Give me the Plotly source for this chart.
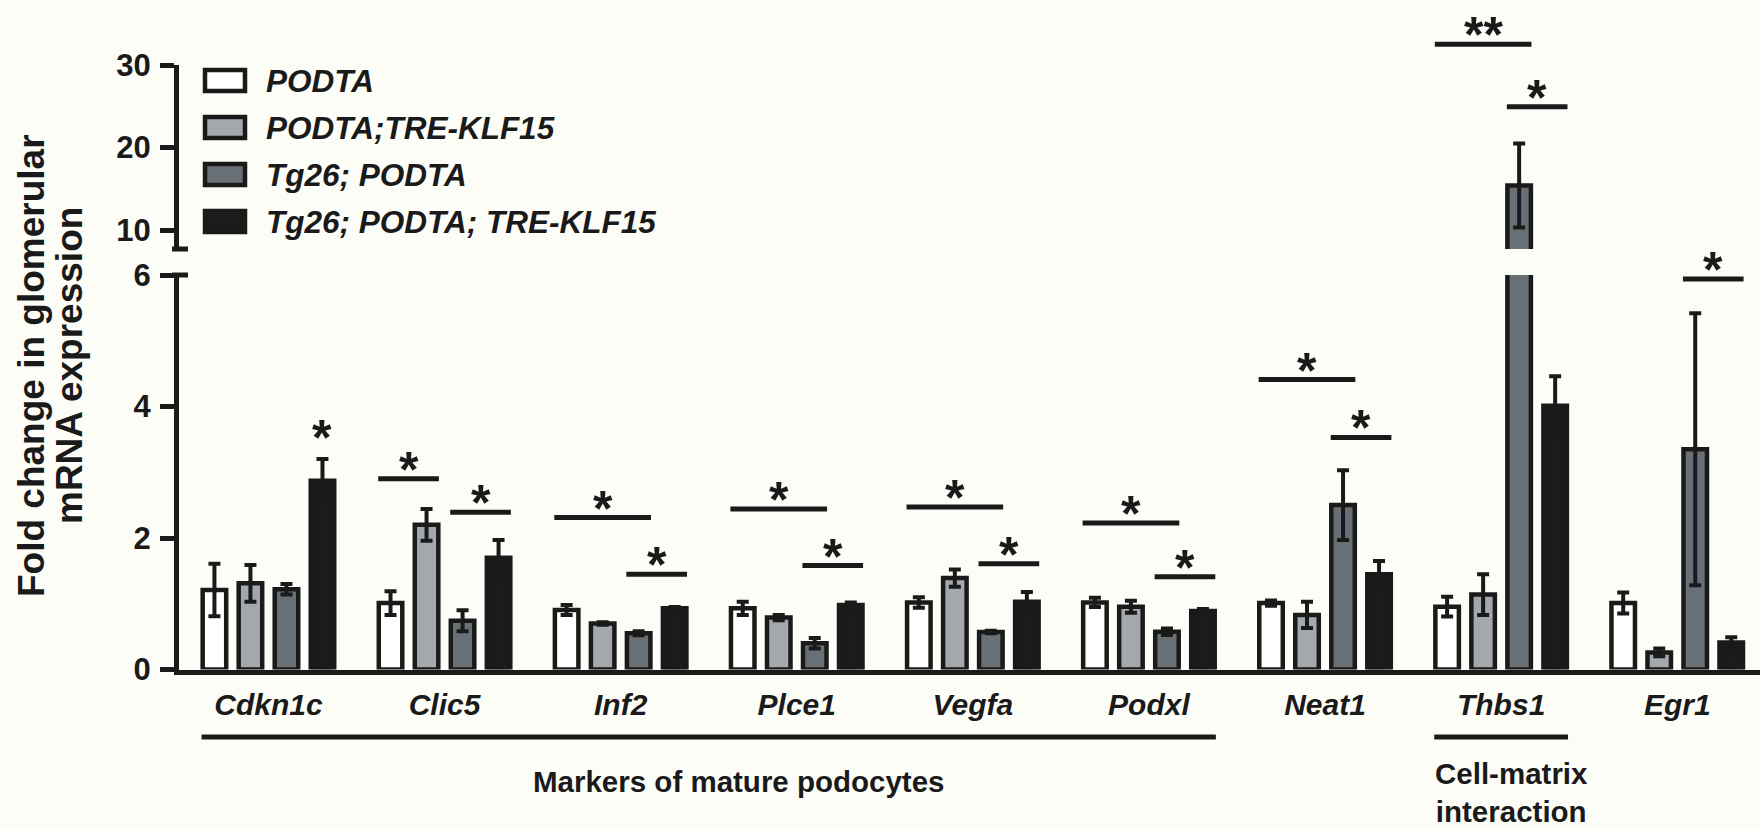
import plotly.graph_objects as go

# ---- data -------------------------------------------------------------
genes = ["Cdkn1c", "Clic5", "Inf2", "Plce1", "Vegfa", "Podxl", "Neat1", "Thbs1", "Egr1"]
strains = ["PODTA", "PODTA;TRE-KLF15", "Tg26; PODTA", "Tg26; PODTA; TRE-KLF15"]

podta = [1.21, 1.01, 0.905, 0.93, 1.02, 1.02, 1.01, 0.955, 1.01]
podta_sem = [0.40, 0.18, 0.075, 0.10, 0.08, 0.07, 0.04, 0.15, 0.16]
podta_klf15 = [1.31, 2.20, 0.70, 0.79, 1.39, 0.955, 0.83, 1.14, 0.26]
podta_klf15_sem = [0.28, 0.24, 0.02, 0.04, 0.13, 0.09, 0.20, 0.31, 0.06]
tg26_podta = [1.22, 0.74, 0.55, 0.40, 0.57, 0.575, 2.50, 15.4, 3.35]
tg26_podta_sem = [0.08, 0.16, 0.03, 0.08, 0.02, 0.05, 0.53, 5.1, 2.07]
tg26_podta_klf15 = [2.87, 1.70, 0.93, 0.98, 1.03, 0.89, 1.45, 4.01, 0.41]
tg26_podta_klf15_sem = [0.33, 0.27, 0.02, 0.04, 0.15, 0.03, 0.20, 0.45, 0.08]

# significance brackets: (gene, left strain, right strain, height, mark)
sig_pairs = [
    ("Clic5", 0, 1, 2.90, "*"), ("Clic5", 2, 3, 2.39, "*"),
    ("Inf2", 0, 2, 2.31, "*"), ("Inf2", 2, 3, 1.45, "*"),
    ("Plce1", 0, 2, 2.44, "*"), ("Plce1", 2, 3, 1.58, "*"),
    ("Vegfa", 0, 2, 2.47, "*"), ("Vegfa", 2, 3, 1.61, "*"),
    ("Podxl", 0, 2, 2.23, "*"), ("Podxl", 2, 3, 1.41, "*"),
    ("Neat1", 0, 2, 4.41, "*"), ("Neat1", 2, 3, 3.53, "*"),
    ("Thbs1", 0, 2, 32.5, "**"), ("Thbs1", 2, 3, 24.95, "*"),
    ("Egr1", 2, 3, 5.94, "*"),
]
# single-bar marks: (gene, strain, height, mark)
sig_single = [("Cdkn1c", 3, 3.38, "*")]

# gene families: (label, first gene, last gene)
families = [("Markers of mature podocytes", "Cdkn1c", "Podxl"),
            ("Cell-matrix<br>interaction", "Thbs1", "Thbs1")]

means = [podta, podta_klf15, tg26_podta, tg26_podta_klf15]
sems = [podta_sem, podta_klf15_sem, tg26_podta_sem, tg26_podta_klf15_sem]

# ---- style ------------------------------------------------------------
W, H = 1760, 830
INK = "#1a1a1a"
BG = "#fdfdf8"
FILLS = ["#ffffff", "#a3a8ac", "#687075", "#1b1b1b"]
FONT = "Liberation Sans, Arial, sans-serif"
BARGAP, BARGROUPGAP = 0.182, 0.347
slot = (1 - BARGAP) / len(strains)
offsets = [(i - (len(strains) - 1) / 2) * slot for i in range(len(strains))]


def px(xp):
    return xp / W


def py(yp):
    return 1 - yp / H


# broken value axis: lower panel 0-6, upper panel 7.7-30
AXES = {
    "y": dict(domain=[py(669.5), py(275)], range=[0, 6]),
    "y2": dict(domain=[py(249), py(65)], range=[7.7, 30]),
}


def axis_for(v):
    return "y" if v <= AXES["y"]["range"][1] + 0.5 else "y2"


def to_paper(ax, v):
    d, r = AXES[ax]["domain"], AXES[ax]["range"]
    return d[0] + (v - r[0]) / (r[1] - r[0]) * (d[1] - d[0])


x_pos = list(range(len(genes)))
gidx = {g: i for i, g in enumerate(genes)}

fig = go.Figure()

# bars, drawn once on each panel of the broken axis
for yax in ("y", "y2"):
    for i, name in enumerate(strains):
        fig.add_trace(go.Bar(
            x=x_pos, y=means[i], name=name, yaxis=yax, showlegend=False,
            marker=dict(color=FILLS[i], line=dict(color=INK, width=4.5)),
            error_y=dict(type="data", array=sems[i], symmetric=True,
                         color=INK, thickness=4, width=6),
            hoverinfo="skip",
        ))

annotations = []
shapes = []
STAR_FONT = dict(family=FONT, size=50, color=INK, weight="bold")

# significance brackets
for gene, a, b, h, mark in sig_pairs:
    g = gidx[gene]
    yp = to_paper(axis_for(h), h)
    x0 = g + offsets[a] - 0.07
    x1 = g + offsets[b] + 0.07
    shapes.append(dict(type="line", xref="x", yref="paper", x0=x0, x1=x1,
                       y0=yp, y1=yp, line=dict(color=INK, width=5)))
    annotations.append(dict(
        x=(x0 + x1) / 2, y=yp, xref="x", yref="paper", text=mark,
        showarrow=False, yanchor="middle", yshift=9, font=STAR_FONT))

for gene, s, h, mark in sig_single:
    g = gidx[gene]
    annotations.append(dict(
        x=g + offsets[s], y=to_paper(axis_for(h), h), xref="x", yref="paper",
        text=mark, showarrow=False, yanchor="middle", yshift=9, font=STAR_FONT))

# gene family underlines and labels
fam_shift = {"Markers of mature podocytes": 30}
for label, first, last in families:
    x0 = gidx[first] - 0.38
    x1 = gidx[last] + 0.38
    shapes.append(dict(type="line", xref="x", yref="paper", x0=x0, x1=x1,
                       y0=py(737), y1=py(737),
                       line=dict(color=INK, width=5)))
    annotations.append(dict(
        x=(x0 + x1) / 2, y=py(792 if "<br>" in label else 781),
        xref="x", yref="paper", text=label, showarrow=False,
        xshift=fam_shift.get(label, 10), yanchor="middle",
        font=dict(family=FONT, size=29.5, color=INK, weight="bold")))

# axis break caps
for yb in (249, 275):
    shapes.append(dict(type="line", xref="paper", yref="paper",
                       x0=px(172), x1=px(188), y0=py(yb), y1=py(yb),
                       line=dict(color=INK, width=5)))

# legend
for i, name in enumerate(strains):
    top = 68 + 47 * i
    shapes.append(dict(type="rect", xref="paper", yref="paper",
                       x0=px(205), x1=px(245), y0=py(top + 23), y1=py(top + 2),
                       fillcolor=FILLS[i], line=dict(color=INK, width=4.5)))
    annotations.append(dict(
        x=px(264), y=py(top + 12.5), xref="paper", yref="paper",
        text=name, showarrow=False, xanchor="left", yanchor="middle",
        font=dict(family=FONT, size=31.5, color=INK, weight="bold", style="italic")))

# value-axis title, two lines set close together
for text, xc in (("Fold change in glomerular", 31), ("mRNA expression", 69)):
    annotations.append(dict(
        x=px(xc), y=py(366), xref="paper", yref="paper",
        text=text, textangle=-90, showarrow=False,
        xanchor="center", yanchor="middle",
        font=dict(family=FONT, size=37, color=INK, weight="bold")))

yaxis_common = dict(
    showline=True, linewidth=5, linecolor=INK, ticks="outside", ticklen=14,
    tickwidth=5, tickcolor=INK, showgrid=False, zeroline=False,
    tickfont=dict(family=FONT, size=31, color=INK, weight="bold"),
    ticklabelstandoff=3, automargin=False, fixedrange=True, anchor="x",
)

fig.update_layout(
    width=W, height=H, template="none",
    paper_bgcolor=BG, plot_bgcolor=BG,
    margin=dict(l=0, r=0, t=0, b=0, pad=0),
    barmode="group", bargap=BARGAP, bargroupgap=BARGROUPGAP,
    showlegend=False,
    xaxis=dict(
        domain=[px(179), 1], range=[-0.508, 8.47], anchor="y",
        showline=True, linewidth=5, linecolor=INK, ticks="",
        tickvals=x_pos, ticktext=genes, showgrid=False, zeroline=False,
        tickfont=dict(family=FONT, size=30, color=INK, weight="bold", style="italic"),
        ticklabelstandoff=4, automargin=False, fixedrange=True,
    ),
    yaxis=dict(tickvals=[0, 2, 4, 6], **AXES["y"], **yaxis_common),
    yaxis2=dict(tickvals=[10, 20, 30], **AXES["y2"], **yaxis_common),
    shapes=shapes,
    annotations=annotations,
)

fig.write_html("out.html")
